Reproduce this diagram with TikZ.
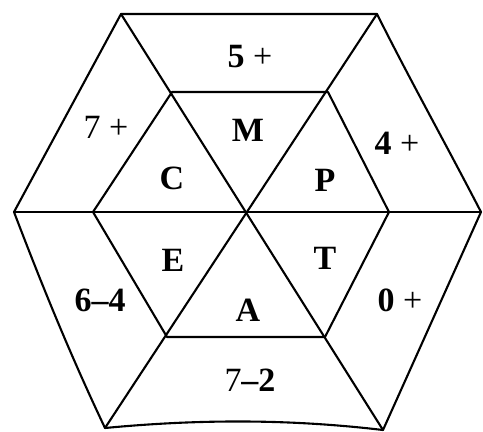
\documentclass[tikz,border=0pt]{standalone}
\usepackage{fontspec}
\setmainfont{Liberation Serif}
\begin{document}
\begin{tikzpicture}[x=1pt,y=-1pt,
  edge/.style={line width=2.1pt, line join=round, line cap=round},
  lbl/.style={font=\fontsize{34}{38}\selectfont, inner sep=0pt}]
\useasboundingbox (0,0) rectangle (483,432);
% outer hexagon
\coordinate (O1) at (121,14);
\coordinate (O2) at (377,14);
\coordinate (O3) at (481,212);
\coordinate (O4) at (383,430);
\coordinate (O5) at (105,428);
\coordinate (O6) at (14,212);
% inner hexagon
\coordinate (I1) at (172,92);
\coordinate (I2) at (328,92);
\coordinate (I3) at (389,212);
\coordinate (I4) at (325,337);
\coordinate (I5) at (167,337);
\coordinate (I6) at (93,212);
\coordinate (C) at (248,212);
\draw[edge] (O1) -- (O2) .. controls (410,80) and (448,148) .. (O3) -- (O4)
  .. controls (290,419) and (200,419) .. (O5) .. controls (68,350) and (40,280) .. (O6) -- cycle;
\draw[edge] (I1) -- (I2) -- (I3) -- (I4) -- (I5) -- (I6) -- cycle;
\draw[edge] (O6) -- (O3);
\draw[edge] (O1) -- (O4);
\draw[edge] (O2) -- (O5);
% labels
\node[lbl] (l5) at (250,57) {\textbf{5} +};
\node[lbl] (lM) at (248,130) {\textbf{M}};
\node[lbl] (l7) at (106,127) {7 +};
\node[lbl] (lC) at (172,178) {\textbf{C}};
\node[lbl] (l4) at (397,143) {\textbf{4} +};
\node[lbl] (lP) at (325,180) {\textbf{P}};
\node[lbl] (lE) at (173,260) {\textbf{E}};
\node[lbl] (l64) at (100,300) {\textbf{6–4}};
\node[lbl] (lA) at (248,310) {\textbf{A}};
\node[lbl] (lT) at (325,258) {\textbf{T}};
\node[lbl] (l0) at (400,300) {\textbf{0} +};
\node[lbl] (l72) at (250,380) {7\textbf{–2}};
\end{tikzpicture}
\end{document}
